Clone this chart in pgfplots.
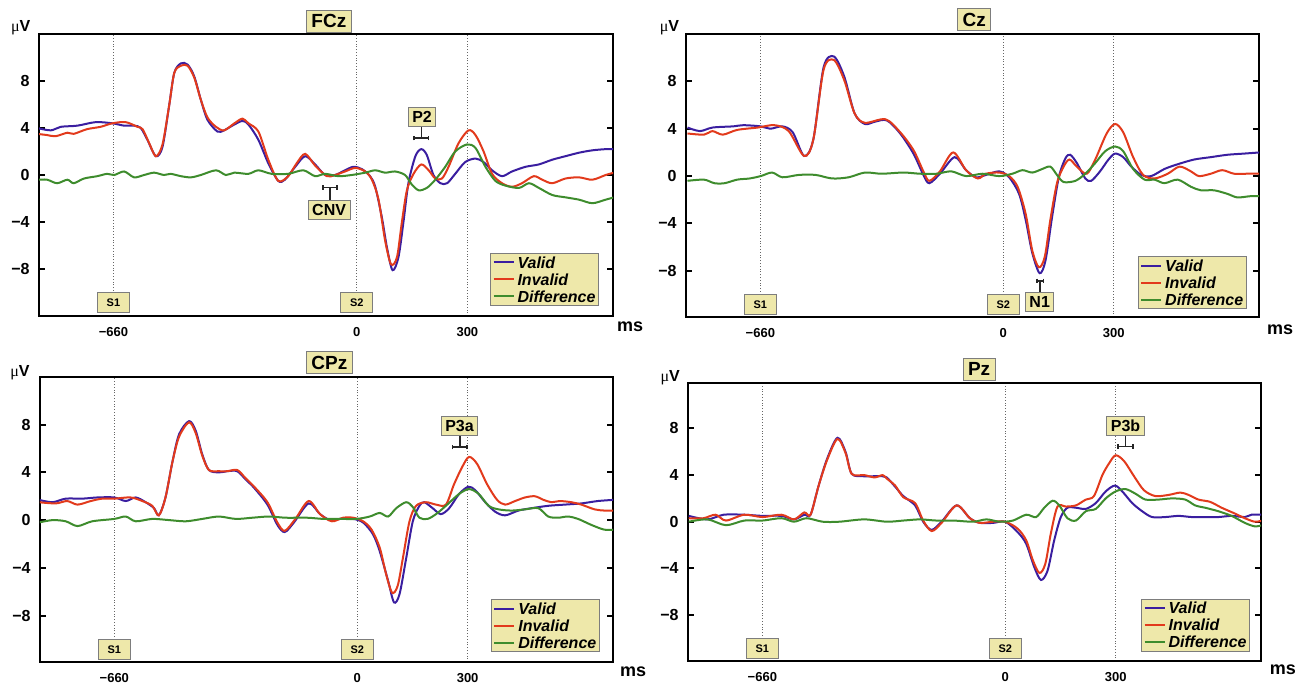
\documentclass[border=0pt]{standalone}
\usepackage{fontspec}
\setmainfont{Liberation Sans}
\newfontfamily\serifmu{Liberation Serif}
\usepackage{pgfplots}
\pgfplotsset{compat=1.18}

\definecolor{valid}{RGB}{58,30,160}
\definecolor{invalid}{RGB}{226,58,28}
\definecolor{diffc}{RGB}{62,140,45}
\definecolor{khaki}{RGB}{238,232,170}
\definecolor{boxgray}{RGB}{125,125,125}

\tikzset{
  tag/.style={fill=khaki, draw=boxgray, line width=0.5pt, inner xsep=2pt, inner ysep=0pt,
    minimum height=9.5pt, font=\bfseries\fontsize{8}{8}\selectfont},
  sbox/.style={fill=khaki, draw=boxgray, line width=0.5pt, inner sep=0pt, minimum width=16pt,
    minimum height=10pt, anchor=south, font=\bfseries\fontsize{5.5}{5.5}\selectfont},
  ttl/.style={fill=khaki, draw=boxgray, line width=0.5pt, inner xsep=2.5pt, inner ysep=0pt,
    minimum height=11pt, font=\bfseries\fontsize{9.5}{9.5}\selectfont},
  brk/.style={line width=0.8pt, black!85},
}

\pgfplotsset{
  erp/.style={
    scale only axis,
    clip mode=individual,
    xmin=-862, xmax=695,
    axis line style={line width=1.2pt},
    xtick={-660,0,300}, xticklabels={−660,0,300},
    ytick={-8,-4,0,4,8}, yticklabels={−8,−4,0,4,8},
    xtick style={draw=none},
    ytick style={line width=1pt, black},
    tick align=inside,
    major tick length=3pt,
    xmajorgrids,
    major grid style={densely dotted, line width=0.5pt, black!60},
    yticklabel style={font=\bfseries\fontsize{8}{8}\selectfont, xshift=-1.2pt},
    xticklabel style={font=\bfseries\fontsize{6.5}{6.5}\selectfont, yshift=-2pt},
    legend style={fill=khaki, draw=boxgray, line width=0.5pt, anchor=south east,
      font=\bfseries\itshape\fontsize{8}{8}\selectfont,
      inner sep=1pt, row sep=1.5pt, column sep=1pt,
      nodes={inner sep=0.5pt, text height=5.8pt, text depth=0.2pt},
      cells={anchor=west}},
    legend image code/.code={\draw[#1] (0pt,0pt) -- (10pt,0pt);},
    every axis plot/.append style={line width=1pt, smooth, no marks},
  },
}

\newcommand{\unitlabels}[4]{%
  \node[font=\fontsize{8}{8}\selectfont] at (rel axis cs:#1,#2) {{\serifmu μ}\textbf{V}};
  \node[font=\bfseries\fontsize{9}{9}\selectfont] at (rel axis cs:#3,#4) {ms};
}

\begin{document}
\begin{tikzpicture}
\useasboundingbox (0,0) rectangle (649.5pt,341pt);

% ---------------- FCz ----------------
\begin{axis}[erp, at={(19.5pt,183pt)}, anchor=south west, width=287pt, height=141pt,
  ymin=-12, ymax=12, legend style={at={(0.9756,0.0355)}}]
\addplot[valid] coordinates {(-867,4.0)(-830,3.8)(-803,4.1)(-758,4.2)(-708,4.5)(-663,4.4)(-631,4.2)(-604,4.2)(-586,4.0)(-568,3.0)(-545,1.6)(-527,2.4)(-509,5.9)(-495,8.7)(-477,9.5)(-459,9.4)(-441,8.4)(-423,6.4)(-405,4.7)(-378,3.7)(-360,3.8)(-332,4.3)(-310,4.6)(-294,4.3)(-267,3.0)(-240,1.0)(-213,-0.5)(-195,-0.4)(-167,0.7)(-140,1.6)(-113,0.9)(-86,0.0)(-59,0.0)(-32,0.4)(-9,0.7)(14,0.5)(36,-0.1)(50,-1.0)(68,-3.6)(82,-6.2)(97,-8.1)(113,-7.0)(127,-3.9)(140,-0.7)(159,1.6)(175,2.2)(190,1.7)(208,0.0)(227,-0.7)(245,-0.7)(267,0.1)(294,1.1)(322,1.4)(344,1.1)(367,0.4)(394,-0.1)(421,0.3)(458,0.7)(494,0.9)(530,1.3)(566,1.6)(603,1.9)(639,2.1)(675,2.2)(698,2.2)};
\addplot[invalid] coordinates {(-867,3.5)(-840,3.4)(-817,3.3)(-785,3.6)(-768,3.5)(-732,3.9)(-695,4.1)(-663,4.4)(-627,4.5)(-595,4.1)(-581,3.9)(-563,2.7)(-545,1.6)(-527,2.6)(-509,5.9)(-495,8.7)(-477,9.3)(-459,9.3)(-441,8.3)(-423,6.4)(-405,4.9)(-382,4.1)(-360,3.8)(-332,4.4)(-310,4.8)(-294,4.4)(-267,3.7)(-240,1.3)(-213,-0.5)(-186,-0.1)(-163,1.0)(-140,1.8)(-113,0.8)(-81,-0.1)(-59,0.0)(-32,0.3)(-4,0.6)(23,0.3)(41,-0.4)(59,-2.1)(77,-5.6)(93,-7.6)(109,-7.0)(122,-4.1)(136,-1.3)(154,0.1)(175,0.9)(195,0.4)(213,-0.3)(231,-0.3)(249,0.7)(276,2.7)(303,3.8)(322,3.4)(344,2.0)(367,0.1)(394,-0.7)(421,-1.0)(448,-0.7)(480,-0.1)(503,-0.4)(530,-0.7)(566,-0.3)(603,-0.2)(639,-0.4)(675,0.0)(698,0.2)};
\addplot[diffc] coordinates {(-867,-0.4)(-840,-0.4)(-813,-0.7)(-785,-0.4)(-768,-0.7)(-740,-0.3)(-704,-0.1)(-677,0.1)(-658,0.0)(-631,0.3)(-604,-0.2)(-577,0.0)(-550,0.2)(-523,0.0)(-505,0.1)(-477,-0.1)(-450,-0.2)(-423,0.0)(-382,0.4)(-355,0.0)(-332,0.2)(-294,0.1)(-267,0.4)(-231,0.1)(-186,0.1)(-145,0.4)(-113,-0.1)(-86,0.1)(-50,-0.1)(-14,0.0)(23,0.2)(50,0.4)(77,0.2)(104,0.3)(131,0.0)(149,-0.8)(168,-1.3)(190,-1.1)(213,-0.4)(240,0.7)(267,2.0)(299,2.6)(322,2.3)(349,0.7)(376,-0.5)(403,-0.9)(440,-1.1)(467,-0.7)(494,-1.1)(530,-1.7)(566,-1.9)(603,-2.1)(639,-2.4)(675,-2.1)(698,-1.9)};
\addlegendentry{Valid}\addlegendentry{Invalid}\addlegendentry{Difference}
\node[ttl] at (rel axis cs:0.505,1.046) {FCz};
\unitlabels{-0.032}{1.021}{1.03}{-0.039}
\node[sbox, yshift=1.5pt] at (axis cs:-660,-12) {S1};
\node[sbox, yshift=1.5pt] at (axis cs:0,-12) {S2};
\draw[brk] (-92,-1.06) -- (-54,-1.06) (-92,-0.86) -- (-92,-1.26) (-54,-0.86) -- (-54,-1.26) (-73,-1.06) -- (-73,-2.2);
\node[tag] at (-75,-3.0) {CNV};
\draw[brk] (156,3.15) -- (195,3.15) (156,2.95) -- (156,3.35) (195,2.95) -- (195,3.35) (176,3.15) -- (176,4.15);
\node[tag] at (177,4.96) {P2};
\end{axis}

% ---------------- Cz ----------------
\begin{axis}[erp, at={(343pt,182.5pt)}, anchor=south west, width=286.5pt, height=141.5pt,
  ymin=-11.9, ymax=12, legend style={at={(0.9785,0.028)}}]
\addplot[valid] coordinates {(-858,4.1)(-824,3.8)(-790,4.1)(-734,4.2)(-706,4.3)(-659,4.2)(-633,4.0)(-600,4.2)(-572,3.7)(-541,1.7)(-516,3.1)(-488,9.2)(-460,10.1)(-432,8.4)(-404,5.3)(-376,4.4)(-348,4.6)(-316,4.7)(-280,3.6)(-244,1.9)(-217,0.1)(-201,-0.6)(-172,0.2)(-132,1.6)(-101,0.5)(-74,-0.1)(-47,0.1)(-11,0.4)(16,-0.1)(43,-1.5)(61,-3.7)(79,-6.5)(99,-8.2)(115,-7.1)(133,-3.4)(151,-0.1)(169,1.5)(182,1.8)(200,1.1)(223,-0.2)(239,-0.4)(263,0.4)(286,1.4)(304,1.9)(326,1.6)(348,0.8)(375,0.1)(402,0.0)(438,0.6)(474,1.0)(519,1.4)(564,1.6)(609,1.8)(654,1.9)(698,2.0)};
\addplot[invalid] coordinates {(-858,3.6)(-813,3.5)(-790,3.8)(-762,3.5)(-723,3.9)(-667,4.1)(-622,4.3)(-583,3.8)(-541,1.7)(-516,3.1)(-488,9.0)(-460,9.8)(-432,8.1)(-404,5.3)(-376,4.5)(-320,4.8)(-280,3.7)(-244,2.2)(-217,0.4)(-201,-0.4)(-172,0.4)(-136,2.0)(-101,0.5)(-69,-0.2)(-47,0.2)(-11,0.3)(16,0.0)(39,-0.9)(61,-3.2)(79,-6.3)(97,-7.7)(113,-6.8)(128,-3.7)(146,-0.6)(164,0.8)(180,1.4)(200,0.8)(227,0.2)(250,1.4)(281,3.6)(304,4.4)(326,3.7)(353,1.6)(380,0.1)(411,-0.2)(447,0.2)(479,0.8)(510,0.4)(532,0.0)(564,0.2)(595,0.5)(627,0.2)(662,0.2)(698,0.2)};
\addplot[diffc] coordinates {(-858,-0.4)(-813,-0.3)(-785,-0.6)(-757,-0.6)(-723,-0.3)(-689,-0.2)(-659,0.0)(-628,0.3)(-600,-0.1)(-555,0.1)(-510,0.1)(-465,-0.2)(-420,-0.1)(-376,0.3)(-331,0.2)(-271,0.3)(-226,0.2)(-181,0.2)(-141,0.4)(-101,0.0)(-56,0.2)(-11,0.0)(25,0.2)(52,0.5)(79,0.3)(106,0.6)(128,0.8)(146,0.1)(164,-0.5)(196,-0.4)(223,0.2)(250,1.1)(277,2.1)(304,2.5)(326,2.1)(353,0.6)(384,-0.3)(411,-0.3)(438,-0.6)(474,-0.3)(510,-0.9)(537,-1.2)(573,-1.2)(609,-1.5)(636,-1.8)(671,-1.7)(698,-1.7)};
\addlegendentry{Valid}\addlegendentry{Invalid}\addlegendentry{Difference}
\node[ttl] at (rel axis cs:0.503,1.051) {Cz};
\unitlabels{-0.029}{1.023}{1.037}{-0.046}
\node[sbox, yshift=1pt] at (axis cs:-660,-11.9) {S1};
\node[sbox, yshift=1pt] at (axis cs:0,-11.9) {S2};
\draw[brk] (92,-8.85) -- (109,-8.85) (92,-8.65) -- (92,-9.0) (109,-8.65) -- (109,-9.0) (100,-8.85) -- (100,-9.9);
\node[tag] at (99,-10.6) {N1};
\end{axis}

% ---------------- CPz ----------------
\begin{axis}[erp, at={(20pt,10pt)}, anchor=south west, width=286.5pt, height=142.5pt,
  ymin=-11.9, ymax=12, legend style={at={(0.977,0.034)}}]
\addplot[valid] coordinates {(-865,1.7)(-828,1.5)(-792,1.8)(-747,1.8)(-706,1.9)(-660,1.9)(-629,1.6)(-602,1.9)(-575,1.5)(-552,1.0)(-539,0.4)(-521,1.9)(-502,4.9)(-484,7.2)(-457,8.3)(-439,7.5)(-421,5.5)(-403,4.2)(-376,4.0)(-353,4.1)(-326,4.1)(-303,3.4)(-280,2.7)(-244,1.3)(-217,-0.4)(-197,-1.0)(-172,-0.2)(-132,1.4)(-101,0.5)(-74,0.0)(-47,0.1)(-11,0.1)(16,-0.2)(43,-1.2)(61,-2.6)(84,-5.1)(100,-6.9)(115,-6.2)(133,-3.2)(151,-0.1)(169,1.2)(182,1.5)(205,1.0)(227,0.5)(250,1.0)(277,2.2)(302,2.8)(321,2.5)(348,1.5)(375,0.7)(402,0.4)(438,0.8)(474,1.0)(519,1.2)(564,1.3)(609,1.4)(654,1.6)(698,1.7)};
\addplot[invalid] coordinates {(-865,1.5)(-819,1.4)(-788,1.6)(-760,1.3)(-724,1.6)(-693,1.8)(-660,1.8)(-616,1.9)(-584,1.6)(-557,1.2)(-539,0.4)(-521,1.9)(-502,4.9)(-484,7.0)(-457,8.2)(-439,7.3)(-421,5.4)(-403,4.2)(-376,4.1)(-353,4.1)(-326,4.2)(-303,3.5)(-280,2.8)(-244,1.5)(-217,-0.2)(-197,-0.9)(-168,0.1)(-132,1.6)(-101,0.5)(-69,-0.1)(-38,0.2)(-11,0.2)(16,-0.1)(39,-0.8)(61,-2.3)(79,-4.6)(95,-6.1)(110,-5.5)(124,-3.2)(142,-0.1)(160,1.2)(187,1.5)(214,1.3)(241,1.3)(263,3.0)(286,4.5)(304,5.3)(326,4.7)(353,3.0)(380,1.7)(402,1.3)(429,1.6)(456,1.9)(483,2.0)(506,1.7)(528,1.5)(550,1.6)(582,1.5)(609,1.3)(645,0.9)(672,0.8)(698,0.8)};
\addplot[diffc] coordinates {(-865,-0.2)(-828,0.0)(-792,-0.1)(-760,-0.5)(-720,-0.1)(-660,0.1)(-629,0.3)(-602,-0.1)(-557,0.1)(-511,0.0)(-466,-0.1)(-421,0.1)(-376,0.3)(-330,0.1)(-285,0.2)(-240,0.3)(-194,0.2)(-136,0.2)(-92,0.1)(-47,0.1)(-2,0.1)(34,0.3)(61,0.6)(84,0.3)(106,1.0)(133,1.5)(151,1.1)(169,0.2)(191,0.1)(214,0.5)(241,1.2)(277,2.2)(304,2.6)(330,2.2)(357,1.2)(384,0.9)(420,0.8)(456,0.9)(492,1.0)(519,0.3)(546,0.2)(573,0.3)(600,0.1)(636,-0.4)(671,-0.8)(698,-0.8)};
\addlegendentry{Valid}\addlegendentry{Invalid}\addlegendentry{Difference}
\node[ttl] at (rel axis cs:0.505,1.05) {CPz};
\unitlabels{-0.035}{1.016}{1.035}{-0.035}
\node[sbox, yshift=1pt] at (axis cs:-660,-11.9) {S1};
\node[sbox, yshift=1pt] at (axis cs:0,-11.9) {S2};
\draw[brk] (259,6.13) -- (299,6.13) (259,5.93) -- (259,6.33) (299,5.93) -- (299,6.33) (279,6.13) -- (279,7.05);
\node[tag] at (278,7.85) {P3a};
\end{axis}

% ---------------- Pz ----------------
\begin{axis}[erp, at={(344pt,10.5pt)}, anchor=south west, width=286.5pt, height=139pt,
  ymin=-11.95, ymax=11.9, legend style={at={(0.981,0.033)}}]
\addplot[valid] coordinates {(-860,0.5)(-809,0.2)(-765,0.6)(-709,0.6)(-660,0.5)(-608,0.5)(-574,0.2)(-546,0.6)(-529,0.6)(-507,3.1)(-484,5.4)(-456,7.2)(-434,6.0)(-417,4.1)(-383,3.9)(-361,3.9)(-333,3.9)(-322,3.8)(-299,3.0)(-277,2.2)(-245,1.4)(-223,0.0)(-200,-0.7)(-173,0.0)(-132,1.4)(-96,0.3)(-69,-0.1)(-33,-0.1)(0,0.0)(34,-0.9)(57,-1.9)(79,-3.9)(97,-5.0)(115,-4.2)(133,-1.6)(151,0.4)(169,1.2)(192,1.2)(219,1.1)(246,1.6)(273,2.6)(298,3.1)(318,2.6)(345,1.6)(372,0.9)(399,0.4)(435,0.4)(471,0.5)(507,0.4)(543,0.4)(579,0.4)(615,0.5)(651,0.4)(669,0.6)(698,0.6)};
\addplot[invalid] coordinates {(-860,0.3)(-820,0.3)(-787,0.6)(-759,0.1)(-709,0.6)(-660,0.4)(-608,0.6)(-574,0.2)(-546,0.8)(-529,0.6)(-507,3.1)(-484,5.3)(-456,7.1)(-434,5.9)(-417,4.1)(-383,4.0)(-355,3.8)(-333,4.0)(-322,3.7)(-299,3.1)(-277,2.1)(-245,1.6)(-223,0.1)(-200,-0.8)(-173,-0.1)(-132,1.4)(-96,0.3)(-69,-0.1)(-33,0.0)(0,0.0)(34,-0.6)(57,-1.6)(75,-3.3)(93,-4.4)(109,-3.6)(124,-1.0)(142,1.3)(165,1.3)(192,1.4)(219,1.9)(241,2.2)(264,4.0)(282,5.0)(300,5.7)(323,5.2)(350,3.9)(377,2.7)(408,2.2)(444,2.3)(476,2.5)(498,2.3)(525,1.9)(557,1.7)(588,1.2)(624,0.7)(651,0.3)(678,0.0)(698,0.1)};
\addplot[diffc] coordinates {(-860,0.0)(-809,0.2)(-759,-0.3)(-709,0.1)(-660,0.1)(-608,0.3)(-574,0.0)(-540,0.3)(-496,0.0)(-451,0.0)(-383,0.2)(-322,0.0)(-277,0.1)(-232,0.2)(-187,0.1)(-141,0.1)(-87,0.0)(-51,0.2)(-15,0.0)(21,0.1)(57,0.6)(84,0.4)(106,1.2)(129,1.8)(147,1.4)(169,0.3)(192,0.1)(219,0.9)(246,1.1)(273,2.0)(300,2.6)(327,2.8)(354,2.4)(381,1.9)(417,1.9)(453,2.0)(489,1.9)(516,1.4)(543,1.2)(579,0.9)(615,0.5)(651,-0.1)(678,-0.4)(698,-0.3)};
\addlegendentry{Valid}\addlegendentry{Invalid}\addlegendentry{Difference}
\node[ttl] at (rel axis cs:0.508,1.05) {Pz};
\unitlabels{-0.031}{1.018}{1.038}{-0.032}
\node[sbox, yshift=1pt] at (axis cs:-660,-11.95) {S1};
\node[sbox, yshift=1pt] at (axis cs:0,-11.95) {S2};
\draw[brk] (306,6.47) -- (347,6.47) (306,6.27) -- (306,6.67) (347,6.27) -- (347,6.67) (327,6.47) -- (327,7.48);
\node[tag] at (327,8.25) {P3b};
\end{axis}
\end{tikzpicture}
\end{document}
